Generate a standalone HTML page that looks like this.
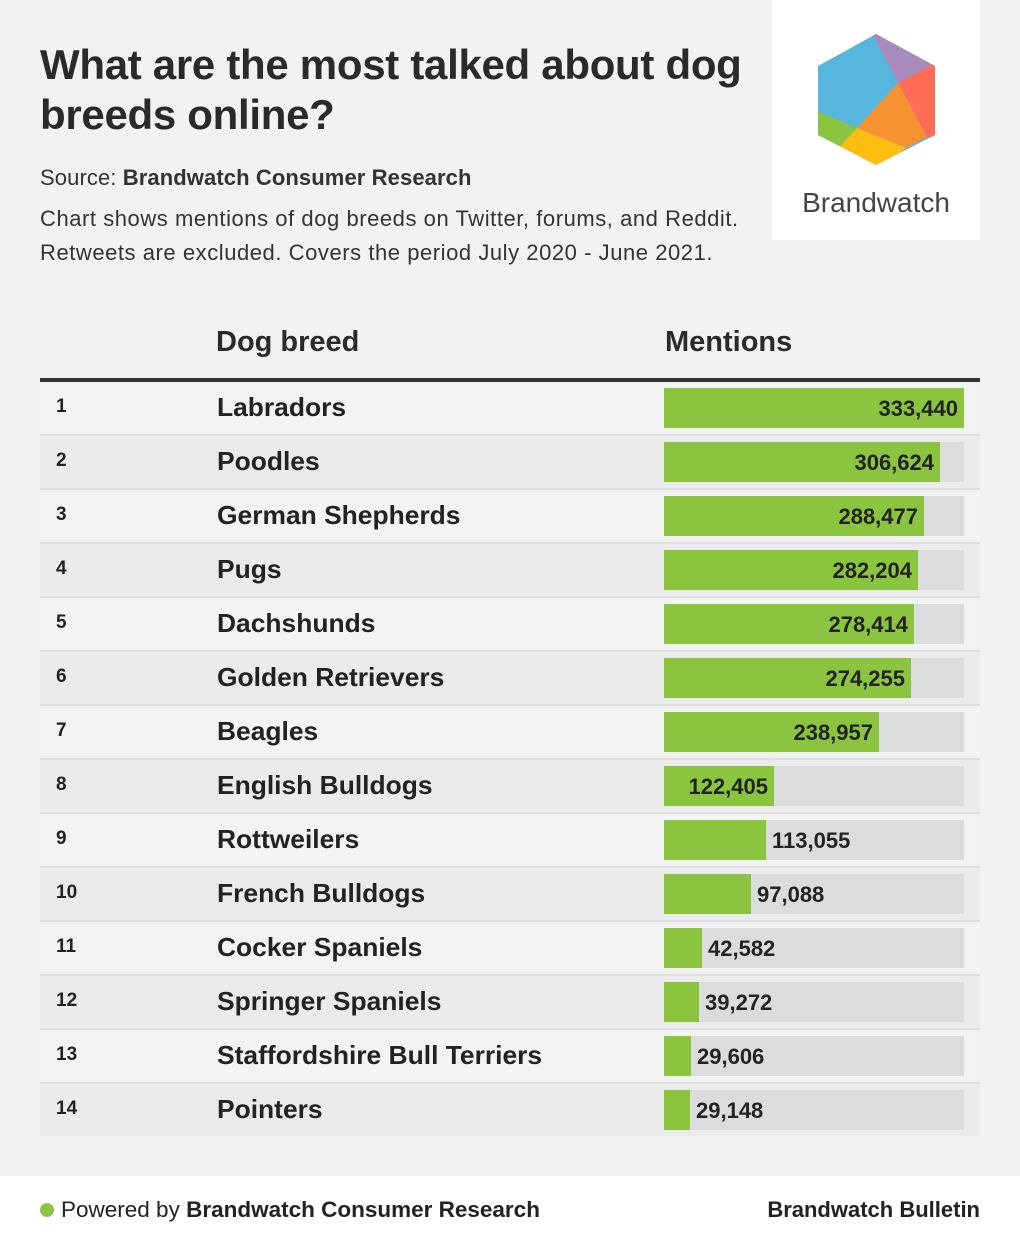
<!DOCTYPE html>
<html><head><meta charset="utf-8"><style>
*{margin:0;padding:0;box-sizing:border-box}
body{width:1020px;height:1244px;background:#f2f2f2;font-family:"Liberation Sans",sans-serif;color:#222;position:relative;overflow:hidden}
.abs{position:absolute}
.title{left:40px;top:40px;font-size:42px;line-height:50px;font-weight:bold;color:#2a2a2a;letter-spacing:-0.3px}
.src{left:40px;top:165px;font-size:22px;color:#333;letter-spacing:0.1px}
.desc{left:40px;top:202px;font-size:22px;line-height:34px;color:#333;letter-spacing:0.55px}
.logo{left:772px;top:0;width:208px;height:240px;background:#fff}
.hdr{top:326px;font-size:29px;font-weight:bold;color:#2a2a2a}
.rule{left:40px;top:378px;width:940px;height:4px;background:#333}
.row{position:absolute;left:40px;width:940px;height:52px}
.num{position:absolute;left:16px;top:14px;font-size:19px;font-weight:bold}
.name{position:absolute;left:177px;top:10px;font-size:26px;font-weight:bold;transform:scaleX(1.015);transform-origin:left}
.track{position:absolute;left:624px;top:6px;width:300px;height:40px;background:#dcdcdc}
.bar{position:absolute;left:0;top:0;height:40px;background:#8bc53f}
.val{position:absolute;top:8px;font-size:22px;font-weight:bold;color:#222}
.foot{left:0;top:1176px;width:1020px;height:68px;background:#fff}
</style></head><body>
<div class="abs title">What are the most talked about dog<br>breeds online?</div>
<div class="abs src">Source: <b>Brandwatch Consumer Research</b></div>
<div class="abs desc">Chart shows mentions of dog breeds on Twitter, forums, and Reddit.<br>Retweets are excluded. Covers the period July 2020 - June 2021.</div>
<div class="abs logo">
<svg width="208" height="240" viewBox="772 0 208 240">
<defs><clipPath id="hx"><path d="M876 34 L935 66 L935 135 L876 165 L818 135 L818 66 Z"/></clipPath></defs>
<g clip-path="url(#hx)">
<rect x="800" y="20" width="150" height="160" fill="#56b6dd"/>
<polygon points="870,30 950,30 950,55 898,83" fill="#a78bbd"/>
<polygon points="898,83 950,55 950,140 927,137" fill="#ff6d57"/>
<polygon points="898,83 927,137 906,148 857,128" fill="#f79233"/>
<polygon points="857,128 906,148 876,170 840,146" fill="#fdbe10"/>
<polygon points="810,108 857,128 840,146 810,140" fill="#8bc53f"/>
</g>
<text x="876" y="212" text-anchor="middle" font-family="Liberation Sans" font-size="28" fill="#444">Brandwatch</text>
</svg></div>
<div class="abs hdr" style="left:216px">Dog breed</div>
<div class="abs hdr" style="left:665px">Mentions</div>
<div class="abs rule"></div>
<div id="rows"></div>
<div class="abs foot">
<div class="abs" style="left:40px;top:27px;width:14px;height:14px;border-radius:50%;background:#8bc53f"></div>
<div class="abs" style="left:61px;top:21px;font-size:22.5px;color:#222">Powered by <b>Brandwatch Consumer Research</b></div>
<div class="abs" style="right:40px;top:21px;font-size:22px;font-weight:bold;color:#222">Brandwatch Bulletin</div>
</div>
<script>
var d=[["Labradors",333440],["Poodles",306624],["German Shepherds",288477],["Pugs",282204],["Dachshunds",278414],["Golden Retrievers",274255],["Beagles",238957],["English Bulldogs",122405],["Rottweilers",113055],["French Bulldogs",97088],["Cocker Spaniels",42582],["Springer Spaniels",39272],["Staffordshire Bull Terriers",29606],["Pointers",29148]];
var h="";
d.forEach(function(r,i){
var w=Math.round(300*r[1]/333440);var s=r[1].toLocaleString("en-US");
var top=382+i*54;
var bg=i%2?"#ebebeb":"#f3f3f3";
var val=w>=106?'<div class="val" style="right:'+(300-w+6)+'px">'+s+'</div>':'<div class="val" style="left:'+(w+6)+'px">'+s+'</div>';
h+='<div class="row" style="top:'+top+'px;background:'+bg+'"><div class="num">'+(i+1)+'</div><div class="name">'+r[0]+'</div><div class="track"><div class="bar" style="width:'+w+'px"></div>'+val+'</div></div>';
if(i<13)h+='<div class="abs" style="left:40px;top:'+(top+52)+'px;width:940px;height:2px;background:#dedede"></div>';
});
document.getElementById("rows").innerHTML=h;
</script>
</body></html>
